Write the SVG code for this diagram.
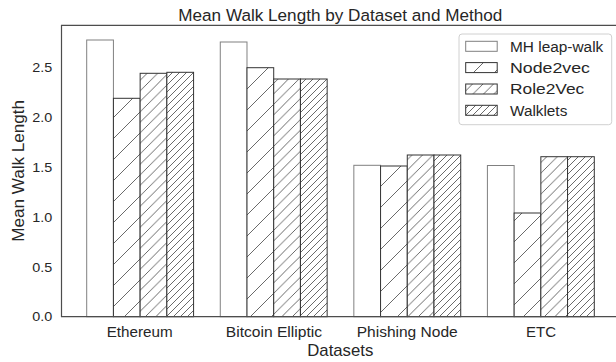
<svg xmlns="http://www.w3.org/2000/svg" width="616" height="362" viewBox="0 0 616 362">
<style>
text{font-family:"Liberation Sans",Arial,sans-serif;fill:#262626}
.tick{font-size:13.5px}
.xt{font-size:14px;text-anchor:middle}
.yt{font-size:13.5px;text-anchor:end}
.leg{font-size:14px}
.bar{stroke-width:1}
.mh{fill:#fff;stroke:#808080}
.n2v{fill:url(#h1);stroke:#333}
.r2v{fill:url(#h2);stroke:#333}
.wlk{fill:url(#h3);stroke:#333}
.spine{stroke:#4d4d4d;stroke-width:1.2;fill:none}
</style>
<defs>
<pattern id="h1" patternUnits="userSpaceOnUse" width="21" height="21">
<rect width="21" height="21" fill="#fff"/>
<path d="M0,21 L21,0 M-5,5 L5,-5 M16,26 L26,16" stroke="#444" stroke-width="0.8"/>
</pattern>
<pattern id="h2" patternUnits="userSpaceOnUse" width="10.5" height="10.5">
<rect width="10.5" height="10.5" fill="#fff"/>
<path d="M0,10.5 L10.5,0 M-3,3 L3,-3 M7.5,13.5 L13.5,7.5" stroke="#444" stroke-width="0.8"/>
</pattern>
<pattern id="h3" patternUnits="userSpaceOnUse" width="7" height="7">
<rect width="7" height="7" fill="#fff"/>
<path d="M0,7 L7,0 M-2,2 L2,-2 M5,9 L9,5" stroke="#444" stroke-width="0.8"/>
</pattern>
</defs>
<rect width="616" height="362" fill="#fff"/>

<g id="bars">
<g id="ethereum">
<rect class="bar mh" x="86.7" y="40" width="26.72" height="276.7"/>
<rect class="bar n2v" x="113.42" y="98.3" width="26.72" height="218.4"/>
<rect class="bar r2v" x="140.14" y="73.3" width="26.72" height="243.4"/>
<rect class="bar wlk" x="166.86" y="72.3" width="26.72" height="244.4"/>
</g>
<g id="bitcoin">
<rect class="bar mh" x="220.27" y="42" width="26.72" height="274.7"/>
<rect class="bar n2v" x="246.99" y="67.7" width="26.72" height="249"/>
<rect class="bar r2v" x="273.71" y="79" width="26.72" height="237.7"/>
<rect class="bar wlk" x="300.43" y="79" width="26.72" height="237.7"/>
</g>
<g id="phishing">
<rect class="bar mh" x="353.84" y="165.3" width="26.72" height="151.4"/>
<rect class="bar n2v" x="380.56" y="166" width="26.72" height="150.7"/>
<rect class="bar r2v" x="407.28" y="155" width="26.72" height="161.7"/>
<rect class="bar wlk" x="434.0" y="155" width="26.72" height="161.7"/>
</g>
<g id="etc">
<rect class="bar mh" x="487.41" y="165.5" width="26.72" height="151.2"/>
<rect class="bar n2v" x="514.13" y="213" width="26.72" height="103.7"/>
<rect class="bar r2v" x="540.85" y="156.7" width="26.72" height="160"/>
<rect class="bar wlk" x="567.57" y="156.7" width="26.72" height="160"/>
</g>
</g>

<g id="axes">
<path class="spine" d="M616,25.3 H61.5 V316.7 H616"/>
</g>

<g id="yticks">
<text class="yt" x="52.3" y="321.4" textLength="20" lengthAdjust="spacingAndGlyphs">0.0</text>
<text class="yt" x="52.3" y="271.5" textLength="20" lengthAdjust="spacingAndGlyphs">0.5</text>
<text class="yt" x="52.3" y="221.6" textLength="20" lengthAdjust="spacingAndGlyphs">1.0</text>
<text class="yt" x="52.3" y="171.8" textLength="20" lengthAdjust="spacingAndGlyphs">1.5</text>
<text class="yt" x="52.3" y="121.9" textLength="20" lengthAdjust="spacingAndGlyphs">2.0</text>
<text class="yt" x="52.3" y="72" textLength="20" lengthAdjust="spacingAndGlyphs">2.5</text>
</g>

<g id="xticks">
<text class="xt" x="139.7" y="336.7" textLength="66" lengthAdjust="spacingAndGlyphs">Ethereum</text>
<text class="xt" x="273.9" y="336.7" textLength="96.3" lengthAdjust="spacingAndGlyphs">Bitcoin Elliptic</text>
<text class="xt" x="407.2" y="336.7" textLength="101" lengthAdjust="spacingAndGlyphs">Phishing Node</text>
<text class="xt" x="541" y="336.7" textLength="30" lengthAdjust="spacingAndGlyphs">ETC</text>
</g>

<text id="xlabel" x="340.3" y="355.7" font-size="17" text-anchor="middle" textLength="66" lengthAdjust="spacingAndGlyphs">Datasets</text>
<text id="ylabel" transform="translate(24.3,170.8) rotate(-90)" x="0" y="0" font-size="16.5" text-anchor="middle" textLength="141.7" lengthAdjust="spacingAndGlyphs">Mean Walk Length</text>
<text id="title" x="340.3" y="21" font-size="16.3" text-anchor="middle" textLength="324" lengthAdjust="spacingAndGlyphs">Mean Walk Length by Dataset and Method</text>

<g id="legend">
<rect x="459" y="34" width="152.7" height="90.7" rx="3" fill="#fff" fill-opacity="0.8" stroke="#d0d0d0" stroke-width="1"/>
<rect class="bar mh" x="465.7" y="41.3" width="31.5" height="10"/>
<rect class="bar n2v" x="465.7" y="62.6" width="31.5" height="10"/>
<rect class="bar r2v" x="465.7" y="84" width="31.5" height="10"/>
<rect class="bar wlk" x="465.7" y="105.3" width="31.5" height="10"/>
<text class="leg" x="510" y="52" textLength="93.3" lengthAdjust="spacingAndGlyphs">MH leap-walk</text>
<text class="leg" x="510" y="73" textLength="80" lengthAdjust="spacingAndGlyphs">Node2vec</text>
<text class="leg" x="510" y="94.3" textLength="74.3" lengthAdjust="spacingAndGlyphs">Role2Vec</text>
<text class="leg" x="510" y="115.5" textLength="57.3" lengthAdjust="spacingAndGlyphs">Walklets</text>
</g>
</svg>
